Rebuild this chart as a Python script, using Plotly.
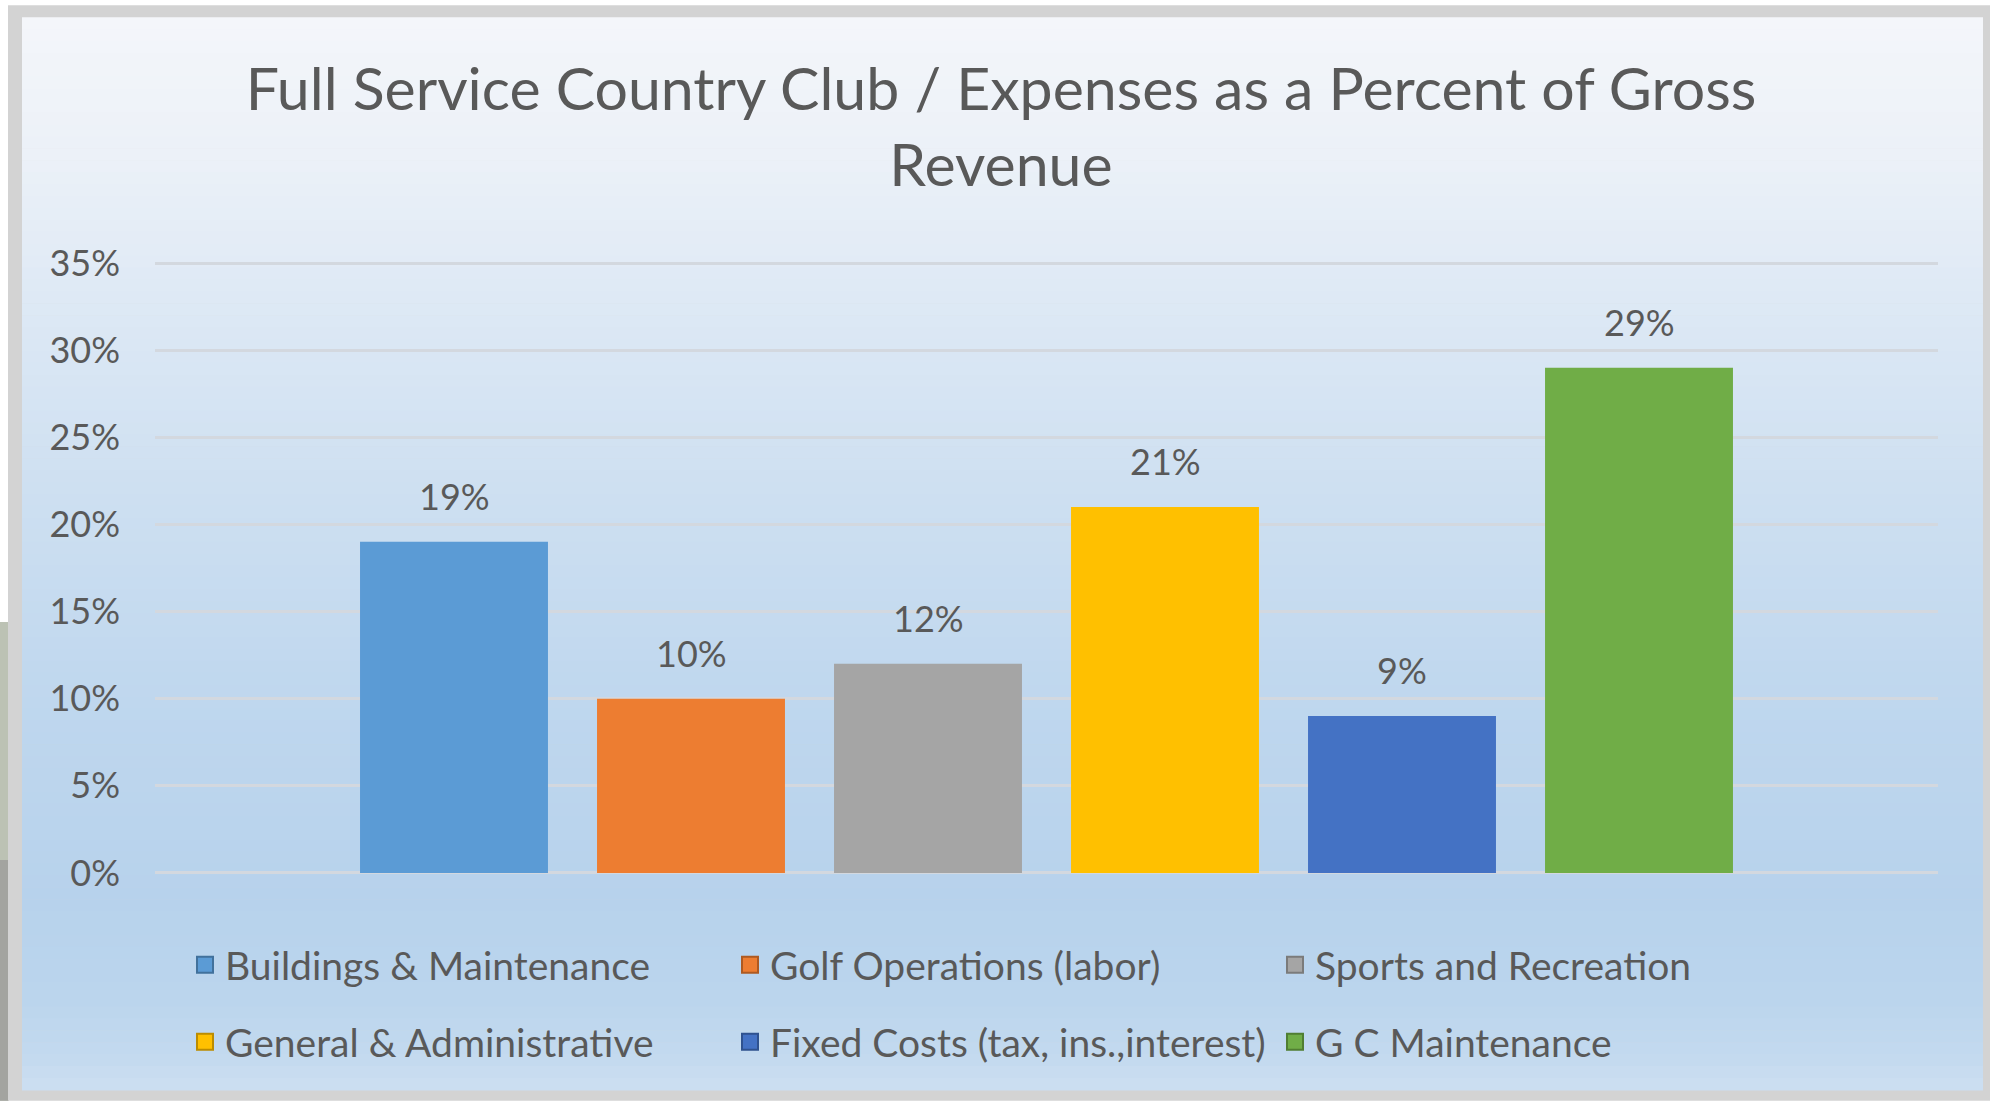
import plotly.graph_objects as go

# ---------------- data ----------------
categories = [
    "Buildings & Maintenance",
    "Golf Operations (labor)",
    "Sports and Recreation",
    "General & Administrative",
    "Fixed Costs (tax, ins.,interest)",
    "G C Maintenance",
]
values = [19, 10, 12, 21, 9, 29]
colors = ["#5B9BD5", "#ED7D31", "#A5A5A5", "#FFC000", "#4472C4", "#70AD47"]
legend_marker_colors = ["#41719C", "#AE5A21", "#7B7B7B", "#BC8C00", "#2F528F", "#507E32"]
y_ticks = [0, 5, 10, 15, 20, 25, 30, 35]
title_text = "Full Service Country Club / Expenses as a Percent of Gross<br>Revenue"

# ---------------- layout geometry (pixels) ----------------
W, H = 1990, 1101
X0, X1 = 155, 1938          # plot area left / right
Y_ZERO, Y_TOP = 873, 263    # pixel rows of 0% and 35%
EXT = 0.12                  # small range extension so edge gridlines are drawn
PPU = (Y_ZERO - Y_TOP) / 35.0
T = Y_TOP - EXT * PPU
B = Y_ZERO + EXT * PPU
FONT = "Lato"
TXT = "#595959"


def px(x):
    return (x - X0) / (X1 - X0)


def py(y):
    return (B - y) / (B - T)


def hex2rgb(h):
    h = h.lstrip("#")
    return [int(h[i:i + 2], 16) for i in (0, 2, 4)]


def rgb2hex(c):
    return "#%02x%02x%02x" % tuple(int(round(v)) for v in c)


shapes = []
# photo strip on the far left
shapes.append(dict(type="rect", xref="paper", yref="paper", x0=px(0), x1=px(9), y0=py(622), y1=py(1101),
                   fillcolor="#BCC2B4", line_width=0, layer="below"))
shapes.append(dict(type="rect", xref="paper", yref="paper", x0=px(0), x1=px(9), y0=py(860), y1=py(1101),
                   fillcolor="#A3A4A0", line_width=0, layer="below"))
# grey frame
shapes.append(dict(type="rect", xref="paper", yref="paper", x0=px(8), x1=px(1990), y0=py(5), y1=py(1101),
                   fillcolor="#D3D3D3", line_width=0, layer="below"))

# vertical background gradient inside the frame
stops = [(17, "#F4F6FA"), (150, "#ECF1F8"), (300, "#DEE9F5"), (500, "#CDDFF1"),
         (700, "#BFD7EE"), (900, "#B7D2EC"), (1000, "#BBD5ED"), (1060, "#C4DAEF"), (1090, "#CDDFF1")]
y0g, y1g = 17, 1090
nb = 90
for k in range(nb):
    ya = y0g + (y1g - y0g) * k / nb
    yb = y0g + (y1g - y0g) * (k + 1) / nb
    ym = (ya + yb) / 2
    for j in range(len(stops) - 1):
        if stops[j][0] <= ym <= stops[j + 1][0]:
            t = (ym - stops[j][0]) / (stops[j + 1][0] - stops[j][0])
            ca, cb = hex2rgb(stops[j][1]), hex2rgb(stops[j + 1][1])
            col = rgb2hex([ca[i] + (cb[i] - ca[i]) * t for i in range(3)])
            break
    shapes.append(dict(type="rect", xref="paper", yref="paper", x0=px(22), x1=px(1983),
                       y0=py(ya), y1=py(yb + 0.6), fillcolor=col, line_width=0, layer="below"))

fig = go.Figure()
for i, (cat, val, col) in enumerate(zip(categories, values, colors)):
    fig.add_trace(go.Bar(
        x=[cat], y=[val], name=cat, width=0.793,
        marker=dict(color=col, line=dict(width=0)),
        showlegend=False, hoverinfo="skip",
    ))
# legend entries (square swatches)
for i, (cat, col, lc) in enumerate(zip(categories, colors, legend_marker_colors)):
    fig.add_trace(go.Scatter(
        x=[None], y=[None], mode="markers", name=cat,
        marker=dict(symbol="square", size=20, color=col, line=dict(color=lc, width=2)),
        legend="legend" if i < 3 else "legend2", hoverinfo="skip",
    ))

annotations = []
for cat, val in zip(categories, values):
    annotations.append(dict(x=cat, y=val, xref="x", yref="y", text=f"{val}%", showarrow=False,
                            yanchor="middle", yshift=46, font=dict(family=FONT, size=36, color=TXT)))

legend_common = dict(orientation="h", xanchor="left", yanchor="middle", entrywidth=500,
                     entrywidthmode="pixels", bgcolor="rgba(0,0,0,0)", itemsizing="trace",
                     font=dict(family=FONT, size=39, color=TXT), traceorder="normal")

fig.update_layout(
    width=W, height=H,
    margin=dict(l=X0, r=W - X1, t=T, b=H - B, pad=0),
    paper_bgcolor="#FFFFFF",
    plot_bgcolor="rgba(0,0,0,0)",
    barmode="overlay",
    title=dict(text=title_text, x=1001 / W, xanchor="center", xref="container",
               y=1 - 109.5 / H, yanchor="middle", yref="container",
               font=dict(family=FONT, size=59, color=TXT)),
    xaxis=dict(type="category", categoryorder="array", categoryarray=categories,
               range=[-1.2616, 6.2616], showticklabels=False, showgrid=False,
               zeroline=False, showline=False, fixedrange=True),
    yaxis=dict(range=[-EXT, 35 + EXT], tickvals=y_ticks, ticktext=[f"{v}%" for v in y_ticks],
               showgrid=True, gridcolor="#D3D8DF", gridwidth=3, zeroline=False,
               showline=False, ticklabelstandoff=34,
               tickfont=dict(family=FONT, size=36, color=TXT)),
    legend=dict(x=px(185), y=py(965), **legend_common),
    legend2=dict(x=px(185), y=py(1042), **legend_common),
    shapes=shapes,
    annotations=annotations,
    showlegend=True,
)

fig.write_html("out.html")
